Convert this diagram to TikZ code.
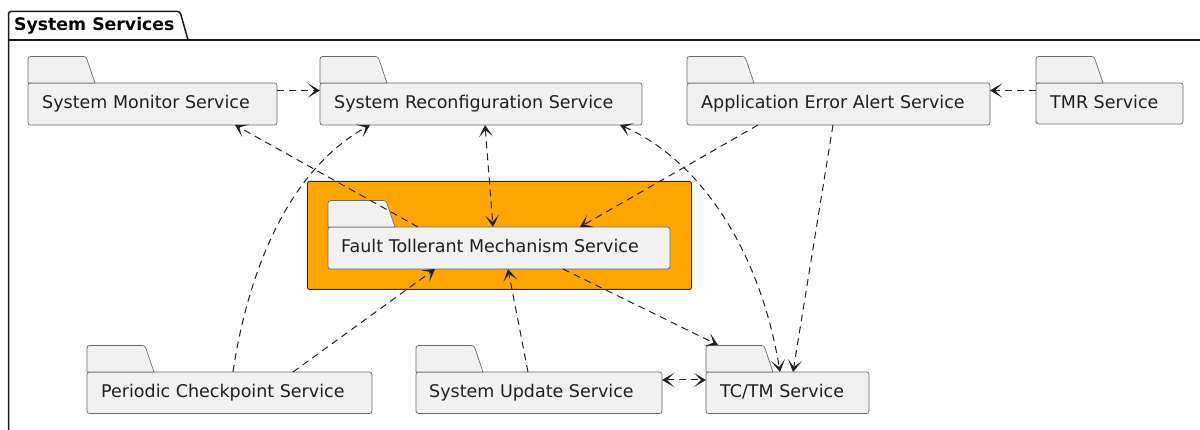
\documentclass[tikz,border=0pt]{standalone}
\usepackage{fontspec}
\setmainfont{DejaVu Sans}
\usetikzlibrary{arrows.meta,calc}
\definecolor{pkgfill}{HTML}{F1F1F1}
\definecolor{pkgline}{HTML}{6A6A6A}
\definecolor{lnk}{HTML}{222222}
\definecolor{grp}{HTML}{FFA500}
\tikzset{
  body/.style={draw=pkgline, fill=pkgfill, line width=0.7pt, rounded corners=2.5pt, inner sep=0pt, outer sep=0pt, anchor=north west},
  tabshape/.style={draw=pkgline, fill=pkgfill, line width=0.7pt},
  lbl/.style={inner sep=0pt, anchor=base west, font=\fontsize{17.5}{20}\selectfont, text=black!88},
  dep/.style={draw=lnk, line width=1pt, dash pattern=on 7pt off 5pt, -{Stealth[length=12pt, width=14pt, inset=7pt, line width=1pt]}},
  bidep/.style={dep, {Stealth[length=12pt, width=14pt, inset=7pt, line width=1pt]}-{Stealth[length=12pt, width=14pt, inset=7pt, line width=1pt]}},
}
\newcommand\pkgtab[1]{\path[tabshape] (#1.north west) {[rounded corners=2.5pt] -- ++(0,-26.5) -- ++(58,0)} -- ++(9,26.5) -- cycle;}
\begin{document}
\begin{tikzpicture}[x=1pt,y=-1pt]
\useasboundingbox (0,0) rectangle (1200,430);
% outer package
\draw[line width=1.5pt, black!90] (8.5,440) -- (8.5,40) {[rounded corners=2.5pt] -- (8.5,11.5) -- (180,11.5)} -- (188,40);
\draw[line width=1.5pt, black!90] (8.5,40) -- (1215,40);
\node[inner sep=0pt, anchor=base west, font=\bfseries\fontsize{17.3}{20}\selectfont] (systitle) at (14,31) {System Services};

% orange group
\node[draw=black!85, fill=grp, line width=0.9pt, rounded corners=2pt, inner sep=0pt, anchor=north west, minimum width=384pt, minimum height=108pt] (grpbox) at (307,181) {};

% packages
\node[body, minimum width=249pt, minimum height=42pt] (mon) at (28,83) {};
\node[body, minimum width=322pt, minimum height=42pt] (rec) at (320,83) {};
\node[body, minimum width=303pt, minimum height=42pt] (app) at (687,83) {};
\node[body, minimum width=147pt, minimum height=41pt] (tmr) at (1036,83) {};
\node[body, minimum width=342pt, minimum height=42pt] (ftm) at (328,227) {};
\node[body, minimum width=285pt, minimum height=41.5pt] (per) at (87,372) {};
\node[body, minimum width=246pt, minimum height=41.5pt] (upd) at (416,372) {};
\node[body, minimum width=163pt, minimum height=41.5pt] (tc) at (706,372) {};
\pkgtab{mon}\pkgtab{rec}\pkgtab{app}\pkgtab{tmr}\pkgtab{ftm}\pkgtab{per}\pkgtab{upd}\pkgtab{tc}

\node[lbl] (monL) at ($(mon.north west)+(14,26)$) {System Monitor Service};
\node[lbl] (recL) at ($(rec.north west)+(14,26)$) {System Reconfiguration Service};
\node[lbl] (appL) at ($(app.north west)+(14,26)$) {Application Error Alert Service};
\node[lbl] (tmrL) at ($(tmr.north west)+(14,26)$) {TMR Service};
\node[lbl] (ftmL) at ($(ftm.north west)+(13,26)$) {Fault Tollerant Mechanism Service};
\node[lbl] (perL) at ($(per.north west)+(14,26)$) {Periodic Checkpoint Service};
\node[lbl] (updL) at ($(upd.north west)+(13,26)$) {System Update Service};
\node[lbl] (tcL) at ($(tc.north west)+(14,26)$) {TC/TM Service};

% connectors
\draw[dep] ($(mon.north east)+(0,7.5)$) -- ($(rec.north west)+(0,7.5)$);
\draw[dep] ($(tmr.north west)+(0,7.5)$) -- ($(app.north east)+(0,7.5)$);
\draw[dep] ($(ftm.north west)+(90,0)$) -- ($(mon.south west)+(207,0)$);
\draw[dep] ($(per.north west)+(146,0)$) .. controls (245,290) and (280,175) .. ($(rec.south west)+(50,0)$);
\draw[dep] ($(per.north west)+(206,0)$) -- ($(ftm.south west)+(107,0)$);
\draw[bidep] ($(rec.south west)+(165,0)$) -- ($(ftm.north west)+(165,0)$);
\draw[dep] ($(app.south west)+(71,0)$) -- ($(ftm.north west)+(252,0)$);
\draw[dep] ($(app.south west)+(146,0)$) -- ($(tc.north west)+(87,0)$);
\draw[bidep] ($(rec.south west)+(300,0)$) .. controls (700,160) and (760,250) .. ($(tc.north west)+(74,0)$);
\draw[dep] ($(ftm.south west)+(235,0)$) -- ($(tc.north west)+(12,-27)$);
\draw[bidep] ($(upd.north east)+(0,8)$) -- ($(tc.north west)+(0,8)$);
\draw[dep] ($(upd.north west)+(112,0)$) -- ($(ftm.south west)+(180,0)$);
\end{tikzpicture}
\end{document}
